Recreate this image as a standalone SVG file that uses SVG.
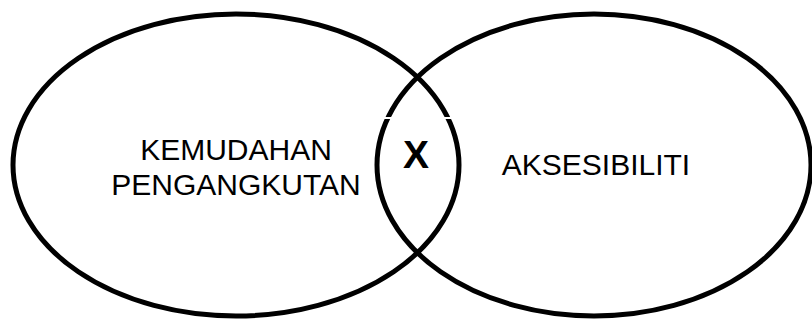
<svg xmlns="http://www.w3.org/2000/svg" width="812" height="320" viewBox="0 0 812 320">
  <style>
    .set { fill: none; stroke: #000; stroke-width: 5; }
    .lbl { font-family: "Liberation Sans", Arial, sans-serif; font-size: 30px; fill: #000; text-anchor: middle; }
    .x { font-family: "Liberation Sans", Arial, sans-serif; font-size: 39px; font-weight: bold; fill: #000; text-anchor: middle; }
  </style>
  <rect width="812" height="320" fill="#fff"/>
  <g id="kemudahan">
    <ellipse class="set" cx="236" cy="165" rx="223" ry="151"/>
    <text class="lbl" x="236" y="160">KEMUDAHAN</text>
    <text class="lbl" x="236" y="195">PENGANGKUTAN</text>
  </g>
  <g id="aksesibiliti">
    <ellipse class="set" cx="594" cy="165" rx="217" ry="151"/>
    <text class="lbl" x="596" y="175">AKSESIBILITI</text>
  </g>
  <g id="intersection">
    <rect x="382" y="117" width="12" height="2" fill="#fff"/>
    <rect x="442" y="117" width="12" height="2" fill="#fff"/>
    <text class="x" x="416" y="168">X</text>
  </g>
</svg>
